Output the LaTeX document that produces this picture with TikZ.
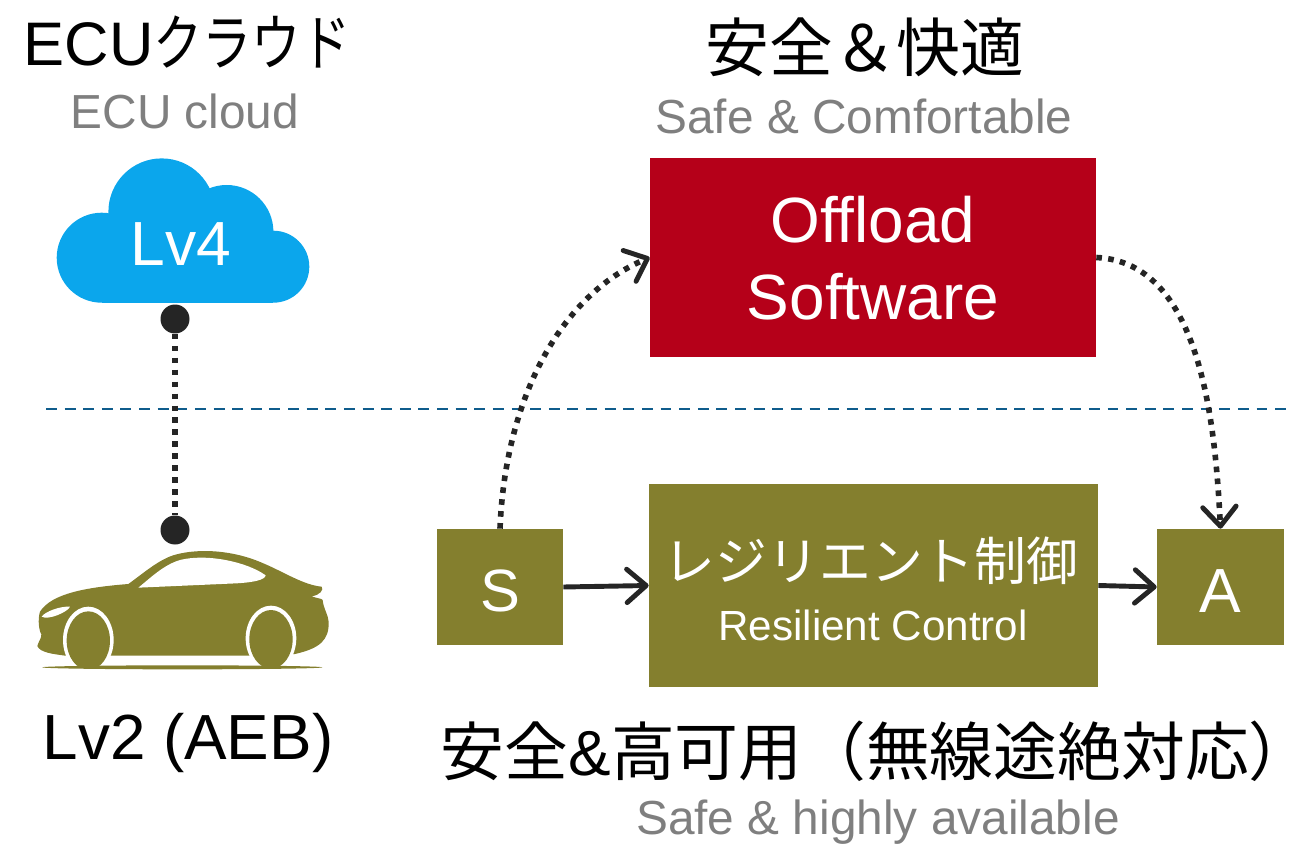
\documentclass[tikz,border=0pt]{standalone}
\usepackage{fontspec}
\setmainfont{Liberation Sans}
\newfontfamily\jpfont{Noto Sans CJK JP}
\newfontfamily\jpnarrow[FakeStretch=.8]{Noto Sans CJK JP}
\usetikzlibrary{arrows.meta}
\definecolor{olivebox}{HTML}{847F2E}
\definecolor{redbox}{HTML}{B50019}
\definecolor{cloudblue}{HTML}{0BA6EC}
\definecolor{linkdark}{HTML}{252525}
\definecolor{capgray}{HTML}{7F7F7F}
\definecolor{splitblue}{HTML}{0F5C8C}
\newcommand{\fsize}[1]{\fontsize{#1}{#1}\selectfont}
\tikzset{
 olivenode/.style={fill=olivebox, minimum width=#1*.02cm, inner sep=0},
 title/.style={inner sep=0, anchor=base, black},
 caption/.style={inner sep=0, anchor=base, capgray, font=\fsize{27.2}},
 boxtext/.style={inner sep=0, anchor=base, white},
 pin/.style={circle, fill=linkdark, minimum size=.58cm, inner sep=0},
 dotlink/.style={linkdark, line width=3.2pt, dash pattern=on 3.2pt off 3.6pt},
 solidlink/.style={linkdark, line width=2.8pt, -{Straight Barb[length=11pt,width=19pt,line width=2.8pt,round]}},
 dotarrow/.style={dotlink, -{Straight Barb[length=11pt,width=19pt,line width=2.8pt,round]}},
}
\begin{document}
\begin{tikzpicture}[x=.02cm,y=-.02cm]
\useasboundingbox (0,0) rectangle (1310,844);
% cloud
\fill[cloudblue] (101.7,257.7) circle [radius=45];
\fill[cloudblue] (161.7,211.7) circle [radius=53.3];
\fill[cloudblue] (226.7,231.7) circle [radius=46.7];
\fill[cloudblue] (273.3,266.7) circle [radius=36];
\fill[cloudblue] (101.7,240) rectangle (273.3,302.7);
\node[boxtext, font=\fsize{35.5}] (lvfour) at (181,266) {Lv4};
% car
\begin{scope}[shift={(20,500)}, x=.00667cm, y=-.00667cm]
 \fill[olivebox] (325,252) .. controls (370,220) and (420,175) .. (470,163)
  .. controls (540,145) and (640,150) .. (730,190)
  .. controls (790,215) and (850,255) .. (905,260)
  .. controls (912,270) and (900,285) .. (875,289)
  .. controls (890,295) and (905,295) .. (908,300)
  .. controls (910,325) and (925,345) .. (926,365)
  .. controls (928,420) and (900,445) .. (825,462)
  -- (685,467) -- (280,467) -- (135,467)
  .. controls (100,462) and (60,458) .. (52,438)
  .. controls (55,425) and (65,415) .. (64,403)
  .. controls (58,395) and (52,360) .. (60,335)
  .. controls (95,280) and (200,262) .. (325,252) -- cycle;
 \fill[white] (355,263) .. controls (390,235) and (430,195) .. (480,180)
  .. controls (560,160) and (680,185) .. (737,226)
  .. controls (735,240) and (700,247) .. (650,250) -- cycle;
 \fill[white] (65,350) .. controls (75,335) and (120,318) .. (150,320)
  .. controls (145,335) and (85,362) .. (65,350) -- cycle;
 \fill[white] (205,420) ellipse [x radius=76, y radius=100];
 \fill[white] (753,415) ellipse [x radius=76, y radius=98];
 \begin{scope}
  \clip (100,300) rectangle (860,502);
  \fill[olivebox] (205,422) ellipse [x radius=65, y radius=88];
  \fill[olivebox] (753,418) ellipse [x radius=65, y radius=88];
 \end{scope}
 \fill[white] (120,468) rectangle (135,480);
 \fill[olivebox] (487,502) ellipse [x radius=420, y radius=6];
\end{scope}
% separator
\coordinate (splitleft) at (46,409);
\coordinate (splitright) at (1290,409);
\draw[splitblue, line width=1.6pt, dash pattern=on 6.2pt off 4.4pt] (splitleft) -- (splitright);
% pins
\node[pin] (cloudpin) at (175,319) {};
\node[pin] (carpin) at (175,530) {};
\draw[dotlink] (cloudpin) -- (carpin);
% boxes
\node[fill=redbox, minimum width=8.92cm, minimum height=3.98cm, inner sep=0] (offload) at (873,257.5) {};
\node[olivenode=126, minimum height=2.32cm] (sensor) at (500,587) {};
\node[olivenode=449, minimum height=4.06cm] (control) at (873.5,585.5) {};
\node[olivenode=127, minimum height=2.32cm] (actuator) at (1220.5,587) {};
% box texts
\node[boxtext, font=\fsize{36.4}] (offloadone) at (873,243) {Offload};
\node[boxtext, font=\fsize{36.4}] (offloadtwo) at (873,319) {Software};
\node[boxtext, font=\jpfont\fsize{29.5}] (controlja) at (871,580) {レジリエント制御};
\node[boxtext, font=\fsize{24}] (controlen) at (873,640) {Resilient Control};
\node[boxtext, font=\fsize{34}] (sensortext) at (500,611) {S};
\node[boxtext, font=\fsize{35.5}] (actuatortext) at (1220,612) {A};
% arrows
\draw[solidlink] (sensor.east) -- (control.west);
\draw[solidlink] (control.east) -- (actuator.west);
\draw[dotarrow] (sensor.north) .. controls (505,400) and (560,295) .. (offload.west);
\draw[dotarrow] (offload.east) .. controls (1200,262) and (1215,420) .. (actuator.north);
% titles
\node[title, font=\fsize{35}] (ecuja) at (187,66) {ECU{\jpnarrow クラウド}};
\node[caption] (ecuen) at (185,129) {ECU cloud};
\node[title, font=\jpfont\fsize{36.3}] (safeja) at (865,72) {安全＆快適};
\node[caption] (safeen) at (864,134) {Safe \& Comfortable};
\node[title, font=\fsize{36.3}] (lvtwo) at (188,759) {Lv2 (AEB)};
\node[title, font=\jpfont\fsize{36.3}] (availja) at (864,775) {安全{\rmfamily\&}高可用（無線途絶対応）\kern-.4em};
\node[caption] (availen) at (878,834) {Safe \& highly available};
\end{tikzpicture}
\end{document}
